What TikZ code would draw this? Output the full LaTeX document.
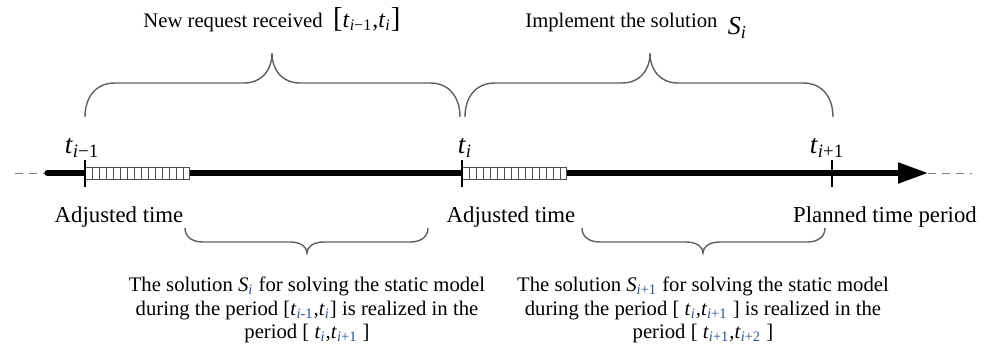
\documentclass[tikz,border=0pt]{standalone}
\usepackage{fontspec}
\setmainfont{Liberation Serif}
\usepackage{xcolor}
\usetikzlibrary{arrows.meta, positioning}

\definecolor{bracegray}{RGB}{95,95,95}
\definecolor{subblue}{RGB}{45,80,135}
\newcommand{\idx}{\textit{i}}
\newcommand{\tsb}[2]{\textit{#1}\textsubscript{#2}}
\newcommand{\bsb}[2]{\textit{#1}\textsubscript{\textcolor{subblue}{#2}}}

\begin{document}
\begin{tikzpicture}[x=0.5pt, y=-0.5pt,
  axis/.style={line width=2.6pt, black},
  tickmark/.style={line width=1.4pt, black},
  ext/.style={gray, line width=0.5pt, dash pattern=on 4pt off 3pt},
  brc/.style={bracegray, line width=0.7pt},
  cellbox/.style={gray!60!black, line width=0.5pt},
  tlbl/.style={font=\fontsize{13.5}{14}\selectfont, inner sep=0pt},
  lbl/.style={font=\fontsize{11.4}{12}\selectfont, inner sep=0pt},
  head/.style={font=\fontsize{10.35}{12}\selectfont, inner sep=0pt},
  note/.style={font=\fontsize{10.35}{11.75}\selectfont, inner sep=0pt, align=center}]
  \useasboundingbox (0,0) rectangle (982,359);
  % time axis
  \coordinate (start) at (47,173);
  \coordinate (tA) at (85,173);
  \coordinate (tB) at (462,173);
  \coordinate (tC) at (832,173);
  \coordinate (end) at (928,173);
  \draw[ext] (15,173) -- (start);
  \draw[ext] (end) -- (972,173);
  \draw[axis, line cap=round, -{Triangle[length=15pt, width=10pt]}] (start) -- (end);
  % adjusted time intervals
  \foreach \x in {85,462} {
    \draw[cellbox, fill=white] (\x,167) rectangle (\x+104,179);
    \foreach \k in {1,...,14}
      \draw[cellbox, line width=0.4pt] (\x+7*\k,167) -- (\x+7*\k,179);
  }
  % ticks
  \foreach \p in {tA,tB,tC}
    \draw[tickmark] ([yshift=6.5pt]\p) -- ([yshift=-7pt]\p);
  \node[tlbl, anchor=base] (lA) at (82,153) {\tsb{t}{\idx−1}};
  \node[tlbl, anchor=base] (lB) at (465,153) {\tsb{t}{\idx}};
  \node[tlbl, anchor=base] (lC) at (827,153) {\tsb{t}{\idx+1}};
  \node[lbl, anchor=base] (adjA) at (119,222) {Adjusted time};
  \node[lbl, anchor=base] (adjB) at (511,222) {Adjusted time};
  \node[lbl, anchor=base] (plan) at (885,222) {Planned time period};
  % braces above the axis
  \foreach \l/\r/\m [count=\n] in {85/460/272, 465/833/650} {
    \draw[brc] (\l,117) .. controls (\l,98) and (\l+10,83) .. (\l+30,83)
      -- (\m-28,83) .. controls (\m-10,83) and (\m,70) .. (\m,53)
      .. controls (\m,70) and (\m+10,83) .. (\m+28,83)
      -- (\r-30,83) .. controls (\r-10,83) and (\r,98) .. (\r,117);
    \coordinate (up\n) at (\m,53);
  }
  \node[head, anchor=base west] (recv) at (143,27)
    {New request received\enspace{\Large[}{\fontsize{12}{12}\selectfont\tsb{t}{\idx−1},\tsb{t}{\idx}}{\Large]}};
  \node[head, anchor=base west] (impl) at (525,27)
    {Implement the solution\enspace\raisebox{-3.8pt}{\fontsize{13}{14}\selectfont\tsb{S}{\idx}}};
  % braces below the axis
  \foreach \l/\r/\m [count=\n] in {185/428/307, 582/825/703} {
    \draw[brc] (\l,228) .. controls (\l,236) and (\l+6,242) .. (\l+18,242)
      -- (\m-17,242) .. controls (\m-6,242) and (\m,247) .. (\m,253)
      .. controls (\m,247) and (\m+6,242) .. (\m+17,242)
      -- (\r-18,242) .. controls (\r-6,242) and (\r,236) .. (\r,228);
    \coordinate (down\n) at (\m,253);
  }
  \node[note, below=12pt of down1] (solA)
    {The solution \bsb{S}{\idx} for solving the static model\\
     during the period [\bsb{t}{\idx-1},\bsb{t}{\idx}] is realized in the\\
     period [ \bsb{t}{\idx},\bsb{t}{\idx+1} ]};
  \node[note, below=12pt of down2] (solB)
    {The solution \bsb{S}{\idx+1} for solving the static model\\
     during the period [ \bsb{t}{\idx},\bsb{t}{\idx+1} ] is realized in the\\
     period [ \bsb{t}{\idx+1},\bsb{t}{\idx+2} ]};
\end{tikzpicture}
\end{document}
